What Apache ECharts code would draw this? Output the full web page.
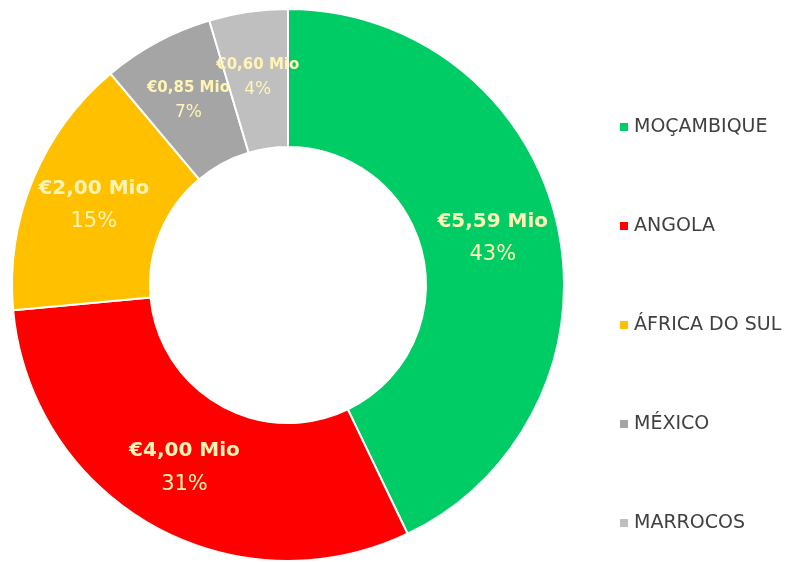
<!DOCTYPE html>
<html><head><meta charset="utf-8">
<script src="https://cdn.jsdelivr.net/npm/echarts@6/dist/echarts.min.js"></script>
<style>html,body{margin:0;padding:0;background:#fff}#c{width:792px;height:562px}</style>
</head><body><div id="c"></div>
<script>
var categories = ['MOÇAMBIQUE', 'ANGOLA', 'ÁFRICA DO SUL', 'MÉXICO', 'MARROCOS'];
var values = [5.59, 4.00, 2.00, 0.85, 0.60];
var pctLabels = ['43%', '31%', '15%', '7%', '4%'];
var colors = ['#00CC66', '#FF0000', '#FFC000', '#A5A5A5', '#BFBFBF'];
var bigSize = [20, 20, 20, 15, 15];
var smallSize = [21, 21, 21, 17, 17];
var lineH = [33, 33, 33, 24, 24];

function fmt(v) { return '€' + v.toFixed(2).replace('.', ',') + ' Mio'; }

var data = categories.map(function (n, i) {
  return {
    name: n, value: values[i],
    itemStyle: { color: colors[i] },
    label: {
      rich: {
        a: { fontSize: bigSize[i], fontWeight: 'bold', color: '#FFF4B5', fontFamily: 'DejaVu Sans', lineHeight: lineH[i] },
        b: { fontSize: smallSize[i], color: '#FFF4B5', fontFamily: 'DejaVu Sans', lineHeight: lineH[i] }
      }
    }
  };
});

var chart = echarts.init(document.getElementById('c'));
chart.setOption({
  animation: false,
  legend: {
    orient: 'vertical', left: 613, top: 111,
    itemWidth: 10, itemHeight: 10, itemGap: 77, icon: 'rect',
    textStyle: { fontSize: 19, color: '#404040', fontFamily: 'DejaVu Sans', lineHeight: 22 },
    data: categories
  },
  series: [{
    type: 'pie', center: [288, 285], radius: [138, 276],
    startAngle: 90, clockwise: true, avoidLabelOverlap: false,
    itemStyle: { borderColor: '#fff', borderWidth: 2 },
    label: {
      show: true, position: 'inside',
      formatter: function (p) { return '{a|' + fmt(values[p.dataIndex]) + '}\n{b|' + pctLabels[p.dataIndex] + '}'; }
    },
    labelLine: { show: false },
    labelLayout: { hideOverlap: false },
    data: data
  }]
});
</script></body></html>
